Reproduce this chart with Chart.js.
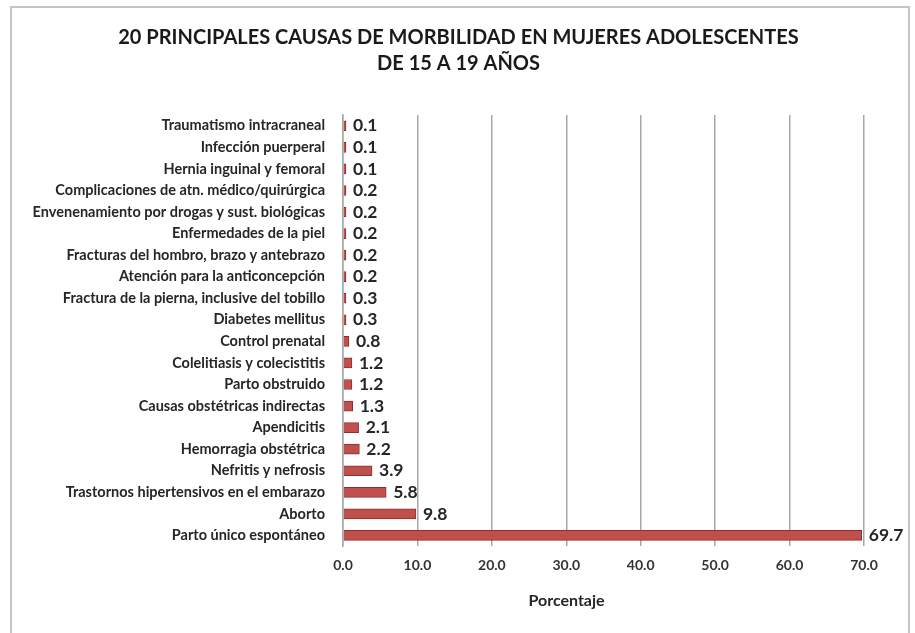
<!DOCTYPE html>
<html>
<head>
<meta charset="utf-8">
<script src="https://cdn.jsdelivr.net/npm/chart.js@4"></script>
<style>
    html, body { margin: 0; padding: 0; background: #fff; }
    #frame { position: absolute; left: 10px; top: 6px; width: 896px; height: 660px; border: 2px solid #c4c4c4; }
    #wrap { position: absolute; left: 0; top: 0; width: 915px; height: 633px; }
</style>
</head>
<body>
<div id="frame"></div>
<div id="wrap"><canvas id="chart" width="915" height="633"></canvas></div>
<script>
const causas = [
    'Traumatismo intracraneal',
    'Infección puerperal',
    'Hernia inguinal y femoral',
    'Complicaciones de atn. médico/quirúrgica',
    'Envenenamiento por drogas y sust. biológicas',
    'Enfermedades de la piel',
    'Fracturas del hombro, brazo y antebrazo',
    'Atención para la anticoncepción',
    'Fractura de la pierna, inclusive del tobillo',
    'Diabetes mellitus',
    'Control prenatal',
    'Colelitiasis y colecistitis',
    'Parto obstruido',
    'Causas obstétricas indirectas',
    'Apendicitis',
    'Hemorragia obstétrica',
    'Nefritis y nefrosis',
    'Trastornos hipertensivos en el embarazo',
    'Aborto',
    'Parto único espontáneo',
];
const porcentajes = [0.1, 0.1, 0.1, 0.2, 0.2, 0.2, 0.2, 0.2, 0.3, 0.3, 0.8, 1.2, 1.2, 1.3, 2.1, 2.2, 3.9, 5.8, 9.8, 69.7];
const tituloLineas = ['20 PRINCIPALES CAUSAS DE MORBILIDAD EN MUJERES ADOLESCENTES', 'DE 15 A 19 AÑOS'];
const ejeTitulo = 'Porcentaje';
const ejeMax = 70;
const ejePaso = 10;

const FONT = 'Lato, Carlito, "Open Sans", sans-serif';

// Value labels to the right of each bar end, plus the page title (centred on
// the whole frame) and the axis title, which sits a bit left of the plot centre.
const labelsPlugin = {
    id: 'labelsPlugin',
    afterDatasetsDraw(chart) {
        const { ctx, chartArea, width } = chart;
        const meta = chart.getDatasetMeta(0);
        ctx.save();
        ctx.font = `bold 17.5px ${FONT}`;
        ctx.fillStyle = '#262626';
        ctx.textBaseline = 'middle';
        ctx.textAlign = 'left';
        meta.data.forEach((bar, i) => {
            ctx.fillText(porcentajes[i].toFixed(1), bar.x + 7, bar.y);
        });

        ctx.textAlign = 'center';
        ctx.font = `bold 16px ${FONT}`;
        ctx.fillText(ejeTitulo, (chartArea.left + chartArea.right) / 2 - 37, chartArea.bottom + 55);

        ctx.fillStyle = '#1a1a1a';
        ctx.font = `bold 20px ${FONT}`;
        tituloLineas.forEach((line, i) => {
            ctx.fillText(line, width / 2 + 1, 38 + i * 26);
        });
        ctx.restore();
    },
};

new Chart(document.getElementById('chart'), {
    type: 'bar',
    data: {
        labels: causas,
        datasets: [{
            data: porcentajes,
            backgroundColor: '#c0504d',
            borderColor: '#8e2f2c',
            borderWidth: 1,
            barThickness: 10,
            minBarLength: 3,
        }],
    },
    options: {
        indexAxis: 'y',
        responsive: false,
        animation: false,
        layout: { padding: { left: 20, right: 51, top: 115, bottom: 48 } },
        plugins: {
            legend: { display: false },
            tooltip: { enabled: false },
            title: { display: false },
        },
        scales: {
            x: {
                min: 0,
                max: ejeMax,
                ticks: {
                    stepSize: ejePaso,
                    padding: 11,
                    color: '#333',
                    font: { family: FONT, size: 14, weight: 'bold' },
                    callback: (v) => v.toFixed(1),
                },
                grid: { color: '#a8a8a8', lineWidth: 1.5, drawTicks: false },
                border: { display: false },
            },
            y: {
                ticks: {
                    padding: 18,
                    color: '#262626',
                    autoSkip: false,
                    font: { family: FONT, size: 14.5, weight: 'bold' },
                },
                grid: { display: false, drawTicks: false },
                border: { display: true, color: '#a8a8a8', width: 1.5 },
                afterFit: (scale) => { scale.width = 323; },
            },
        },
    },
    plugins: [labelsPlugin],
});
</script>
</body>
</html>
